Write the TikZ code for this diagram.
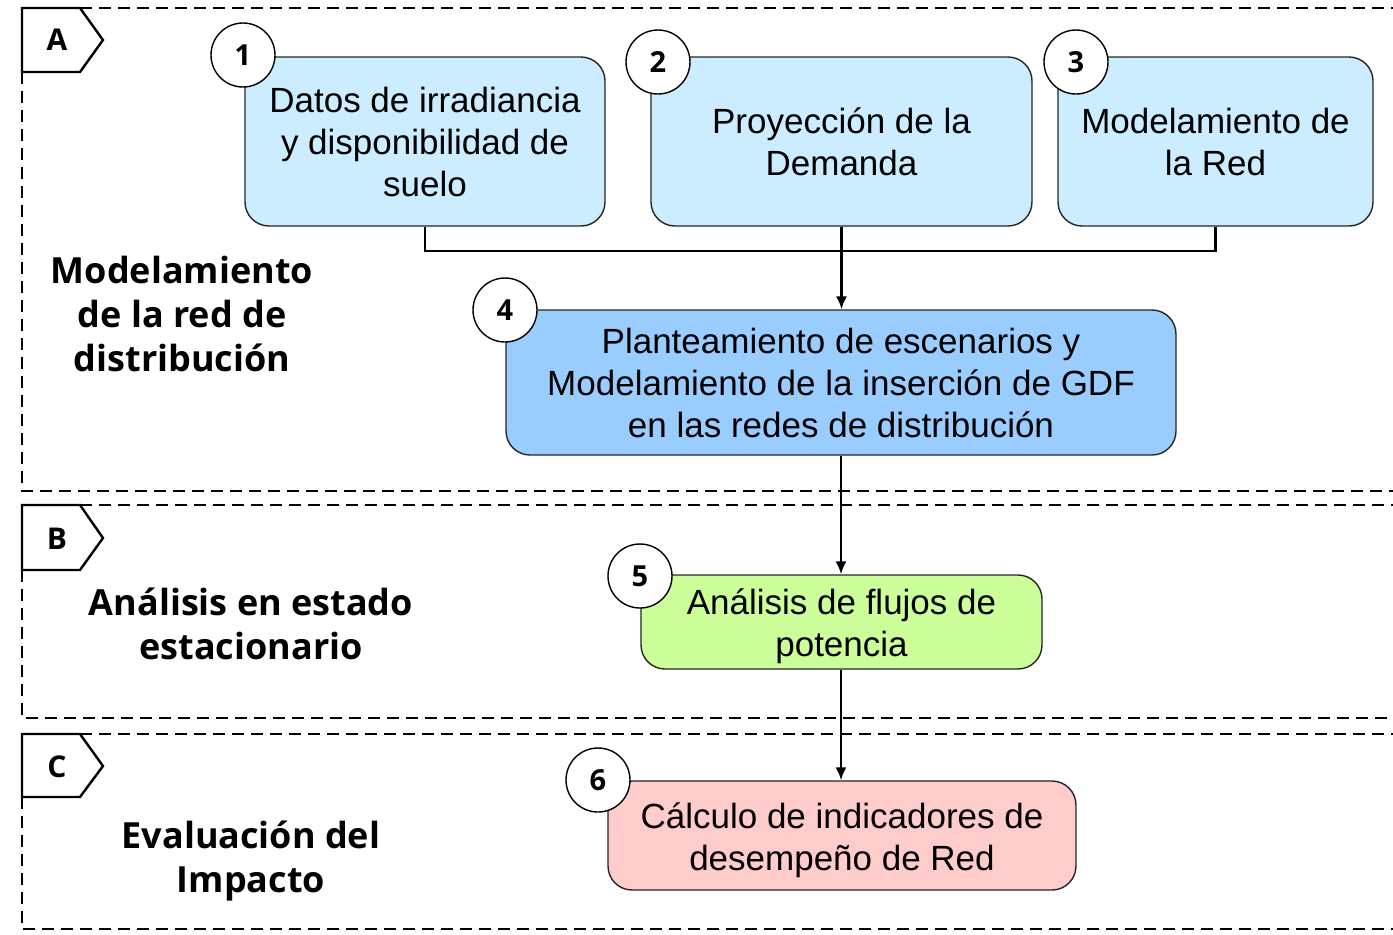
\documentclass[tikz,border=0pt]{standalone}
\usepackage{fontspec}
\setmainfont{Liberation Sans}
\newfontfamily\labfont{Open Sans}
\usetikzlibrary{arrows.meta}
\definecolor{lblue}{RGB}{204,236,255}
\definecolor{mblue}{RGB}{153,204,255}
\definecolor{lgreen}{RGB}{204,255,153}
\definecolor{lpink}{RGB}{255,204,204}
\begin{document}
\begin{tikzpicture}[x=0.5pt,y=-0.5pt,
  box/.style={draw=black!85, line width=0.7pt, rounded corners=12pt, align=center,
    font=\fontsize{17.5}{21}\selectfont, inner sep=0pt},
  numc/.style={draw=black, line width=0.7pt, fill=white, circle, minimum size=32pt, inner sep=0pt,
    font=\labfont\bfseries\fontsize{14.5}{16}\selectfont},
  lab/.style={align=center, font=\labfont\bfseries\fontsize{18}{22}\selectfont},
  tagtxt/.style={font=\labfont\bfseries\fontsize{15}{18}\selectfont},
  tagline/.style={line width=1.2pt, line join=miter},
  frame/.style={line width=1.3pt, dash pattern=on 6pt off 3.5pt},
  conn/.style={line width=1.1pt},
  arr/.style={line width=1.1pt, -{Latex[length=6.5pt,width=5.5pt]}}]
\clip (0,0) rectangle (1393,934);
\fill[white] (0,0) rectangle (1393,934);

% frames
\draw[frame] (80,8) -- (1420,8);
\draw[frame] (22,72) -- (22,491) -- (1420,491);
\draw[frame] (80,505) -- (1420,505);
\draw[frame] (22,570) -- (22,718) -- (1420,718);
\draw[frame] (80,734) -- (1420,734);
\draw[frame] (22,797) -- (22,929) -- (1420,929);

% tags
\draw[tagline] (22,72) -- (22,8) -- (80,8) -- (103,40) -- (80,72) -- cycle;
\node[tagtxt] (tA) at (57,40) {A};
\draw[tagline] (22,570) -- (22,505) -- (80,505) -- (103,538) -- (80,570) -- cycle;
\node[tagtxt] (tB) at (57,539) {B};
\draw[tagline] (22,797) -- (22,734) -- (80,734) -- (103,766) -- (80,797) -- cycle;
\node[tagtxt] (tC) at (57,767) {C};

% left labels
\node[lab] (lA) at (182,314) {Modelamiento\\de la red de\\distribución};
\node[lab] (lB) at (251,624) {Análisis en estado\\estacionario};
\node[lab] (lC) at (251,861) {Evaluación del\\Impacto};

% boxes
\node[box, fill=lblue, minimum width=180pt, minimum height=84.5pt] (b1) at (425,141.5)
  {Datos de irradiancia\\y disponibilidad de\\suelo};
\node[box, fill=lblue, minimum width=190.5pt, minimum height=84.5pt] (b2) at (841.5,141.5)
  {Proyección de la\\Demanda};
\node[box, fill=lblue, minimum width=157.5pt, minimum height=84.5pt] (b3) at (1215.5,141.5)
  {Modelamiento de\\la Red};
\node[box, fill=mblue, minimum width=335pt, minimum height=72.5pt] (b4) at (841,382.5)
  {Planteamiento de escenarios y\\Modelamiento de la inserción de GDF\\en las redes de distribución};
\node[box, fill=lgreen, minimum width=200.5pt, minimum height=47pt] (b5) at (841.5,622)
  {\rule{0pt}{17.5pt}Análisis de flujos de\\potencia};
\node[box, fill=lpink, minimum width=234pt, minimum height=54.5pt] (b6) at (842,835.5)
  {\rule{0pt}{18pt}Cálculo de indicadores de\\desempeño de Red};

% number circles
\node[numc] (n1) at (243,55) {1};
\node[numc] (n2) at (658,62) {2};
\node[numc] (n3) at (1076,62) {3};
\node[numc] (n4) at (505,310) {4};
\node[numc] (n5) at (640,576) {5};
\node[numc] (n6) at (598,780) {6};

% connectors
\coordinate (j) at (841.5,251);
\draw[conn] (b1.south) |- (j) -| (b3.south);
\draw[arr] (b2.south) -- (b2.south |- b4.north);
\draw[arr] (b4.south) -- (b4.south |- b5.north);
\draw[arr] (b4.south |- b5.south) -- (b4.south |- b6.north);
\end{tikzpicture}
\end{document}
